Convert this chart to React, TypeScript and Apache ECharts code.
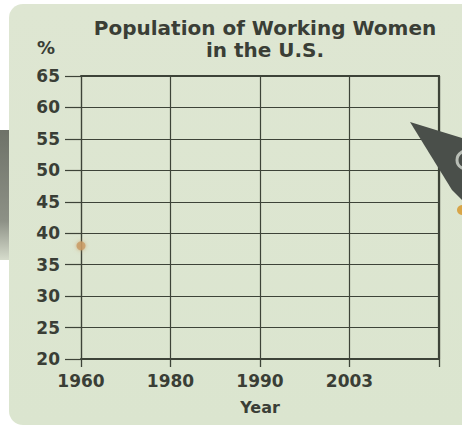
import React, { useEffect, useRef } from "react";
import * as echarts from "echarts";

const years = ["1960", "1980", "1990", "2003", ""];
const percentValues = [38, null, null, null, null];
const yMin = 20;
const yMax = 65;
const yStep = 5;
const titleLines = ["Population of Working Women", "in the U.S."];

export default function App() {
  const ref = useRef<HTMLDivElement>(null);
  useEffect(() => {
    if (!ref.current) return;
    const chart = echarts.init(ref.current, null, { renderer: "svg" });
    const lineColor = "#3d4338";
    const textColor = "#3a3e36";
    const font = "DejaVu Sans";
    chart.setOption({
      animation: false,
      backgroundColor: "#ffffff",
      title: {
        text: titleLines.join("\n"),
        left: 260,
        top: 12,
        textAlign: "center",
        textStyle: {
          fontFamily: font,
          fontSize: 20,
          fontWeight: "bold",
          color: textColor,
          lineHeight: 22,
        },
      },
      grid: { left: 81, right: 23, top: 76, bottom: 68 },
      xAxis: [
        {
          type: "category",
          data: years,
          boundaryGap: false,
          name: "Year",
          nameLocation: "middle",
          nameGap: 40,
          nameTextStyle: { fontFamily: font, fontSize: 16, fontWeight: "bold", color: textColor },
          axisLine: { show: true, lineStyle: { color: lineColor, width: 2 } },
          axisTick: { show: true, length: 8, lineStyle: { color: lineColor, width: 1.3 } },
          axisLabel: { fontFamily: font, fontSize: 17, fontWeight: "bold", color: textColor, margin: 13, interval: 0 },
          splitLine: { show: true, lineStyle: { color: lineColor, width: 1.2 } },
        },
        {
          type: "category",
          position: "top",
          data: years,
          boundaryGap: false,
          axisLine: { show: true, lineStyle: { color: lineColor, width: 2 } },
          axisTick: { show: false },
          axisLabel: { show: false },
          splitLine: { show: false },
        },
      ],
      yAxis: [
        {
          type: "value",
          min: yMin,
          max: yMax,
          interval: yStep,
          name: "%",
          nameLocation: "end",
          nameGap: 20,
          nameTextStyle: {
            fontFamily: font,
            fontSize: 18,
            fontWeight: "bold",
            color: textColor,
            padding: [0, 70, 0, 0],
          },
          axisLine: { show: true, lineStyle: { color: lineColor, width: 1.2 } },
          axisTick: { show: true, length: 16, lineStyle: { color: lineColor, width: 1.2 } },
          axisLabel: { fontFamily: font, fontSize: 17, fontWeight: "bold", color: textColor, margin: 21 },
          splitLine: { show: true, lineStyle: { color: lineColor, width: 1.2 } },
        },
        {
          type: "value",
          position: "right",
          min: yMin,
          max: yMax,
          interval: yStep,
          axisLine: { show: true, lineStyle: { color: lineColor, width: 2.2 } },
          axisTick: { show: false },
          axisLabel: { show: false },
          splitLine: { show: false },
        },
      ],
      series: [
        {
          type: "scatter",
          data: percentValues,
          symbolSize: 9,
          itemStyle: { color: "#c99a63", shadowBlur: 4, shadowColor: "rgba(200,150,90,0.8)" },
          z: 5,
        },
      ],
      graphic: [
        {
          type: "rect",
          z: -10,
          shape: { x: 9, y: 4, width: 470, height: 421, r: 14 },
          style: {
            fill: new echarts.graphic.LinearGradient(0, 0, 0, 1, [
              { offset: 0, color: "#dee6d2" },
              { offset: 1, color: "#dbe5cf" },
            ]),
          },
        },
        {
          type: "rect",
          z: -9,
          shape: { x: 0, y: 130, width: 9, height: 130 },
          style: {
            fill: new echarts.graphic.LinearGradient(0, 0, 0, 1, [
              { offset: 0, color: "#6e7268" },
              { offset: 0.7, color: "#8d9186" },
              { offset: 1, color: "#d6dccc" },
            ]),
          },
        },
        {
          type: "polygon",
          z: 100,
          shape: {
            points: [
              [410, 122],
              [462, 138],
              [462, 200],
              [452, 190],
            ],
          },
          style: { fill: "#4a4f4a" },
        },
        {
          type: "circle",
          z: 101,
          shape: { cx: 466, cy: 160, r: 9 },
          style: { fill: "none", stroke: "#b9beb6", lineWidth: 3 },
        },
        {
          type: "circle",
          z: 101,
          shape: { cx: 462, cy: 210, r: 5 },
          style: { fill: "#d8a548" },
        },
      ],
    });
    return () => chart.dispose();
  }, []);
  return (
    <div
      ref={ref}
      style={{ position: "absolute", left: 0, top: 0, width: 462, height: 427 }}
    />
  );
}
